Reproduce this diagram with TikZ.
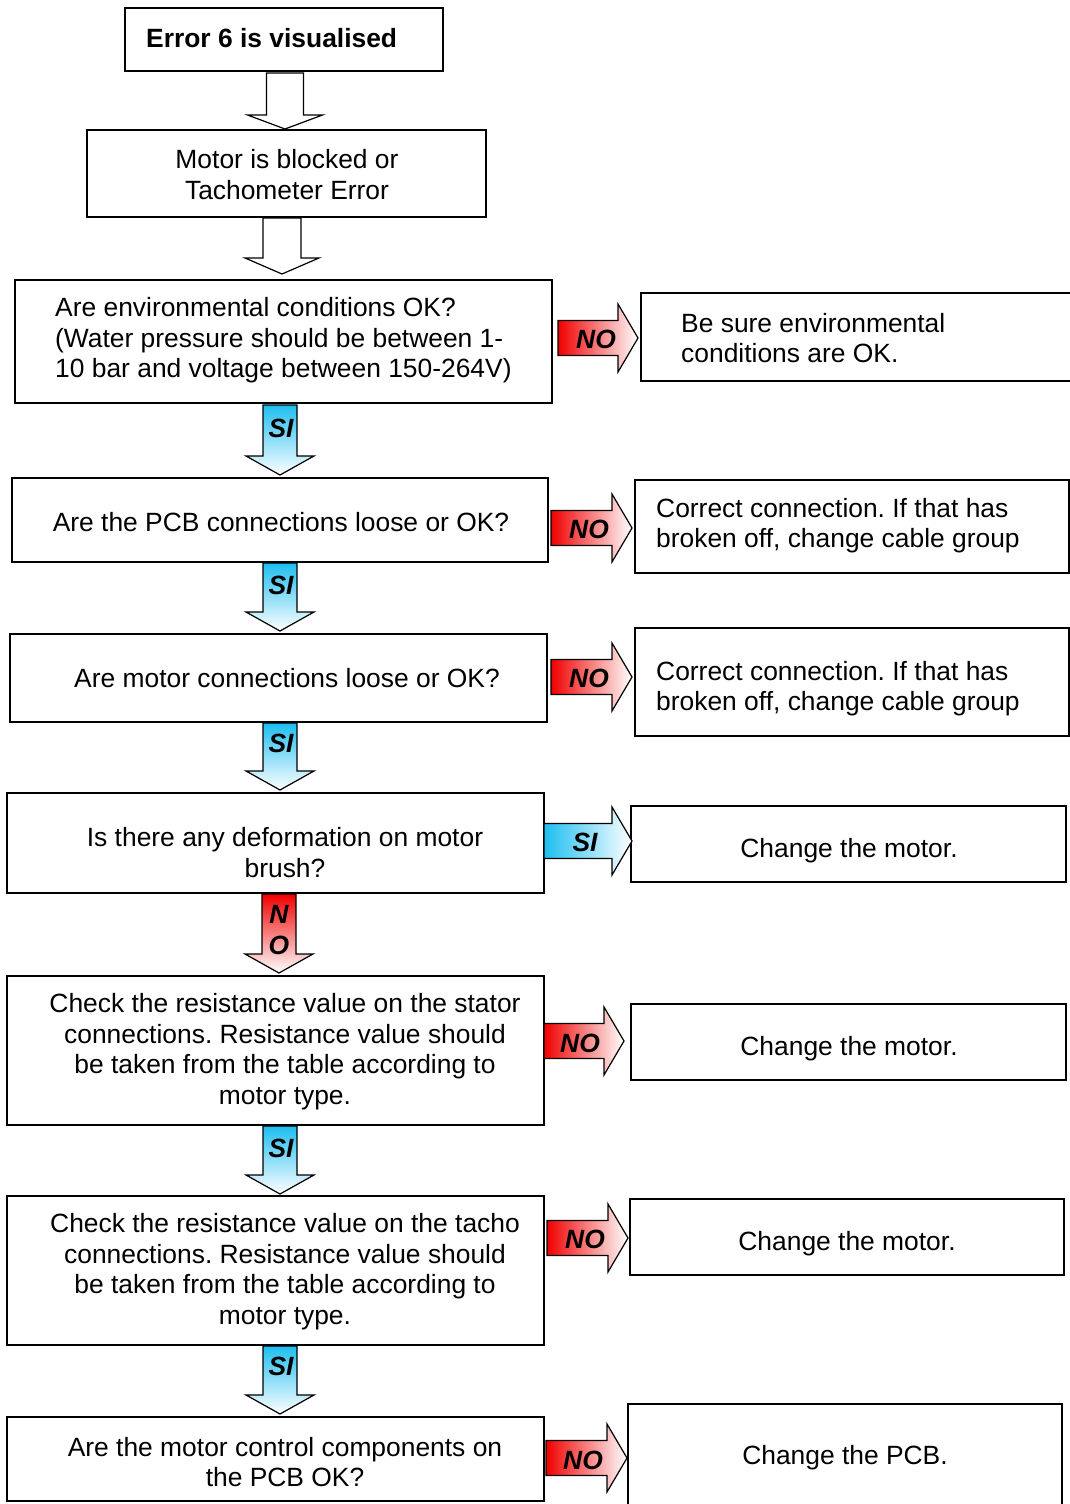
\documentclass[tikz,border=0pt]{standalone}
\usepackage{fontspec}
\setmainfont{Liberation Sans}
\frenchspacing
\definecolor{sicyan}{RGB}{30,190,240}
\definecolor{nored}{RGB}{240,0,0}
% vertical block arrow: x, top, tip, shaft half width, head half width, head length, style
\newcommand\vblock[7]{%
  \path[#7] (#1-#4,#2) -- (#1+#4,#2) -- (#1+#4,#3-#6) -- (#1+#5,#3-#6) -- (#1,#3)
    -- (#1-#5,#3-#6) -- (#1-#4,#3-#6) -- cycle;}
% horizontal block arrow: left, tip, y centre, shaft half height, head half height, head length, style
\newcommand\hblock[7]{%
  \path[#7] (#1,#3-#4) -- (#2-#6,#3-#4) -- (#2-#6,#3-#5) -- (#2,#3)
    -- (#2-#6,#3+#5) -- (#2-#6,#3+#4) -- (#1,#3+#4) -- cycle;}
\begin{document}
\begin{tikzpicture}[x=1pt,y=-1pt,
  box/.style={draw=black, line width=1.6pt, fill=white, rectangle, inner sep=0pt},
  txt/.style={inner sep=0pt, font=\fontsize{26.4}{30.6}\selectfont},
  lbl/.style={inner sep=0pt, font=\fontsize{26.4}{30.6}\selectfont\bfseries\itshape},
  plainarrow/.style={draw=black, line width=1.2pt, fill=white},
  siarrow/.style={draw=black, line width=1.2pt, top color=sicyan, bottom color=white},
  siarrowh/.style={draw=black, line width=1.2pt, left color=sicyan, right color=white},
  noarrow/.style={draw=black, line width=1.2pt, top color=nored, bottom color=white},
  noarrowh/.style={draw=black, line width=1.2pt, left color=nored, right color=white}]
\clip (0,0) rectangle (1070,1504);
\fill[white] (0,0) rectangle (1070,1504);

% left column: questions
\node[box, minimum width=318pt, minimum height=63pt] (b0) at (284,39.5) {};
\node[box, minimum width=399pt, minimum height=87pt] (b1) at (286.5,173.5) {};
\node[box, minimum width=537pt, minimum height=123pt] (b2) at (283.5,341.5) {};
\node[box, minimum width=536pt, minimum height=84pt] (b3) at (280,520) {};
\node[box, minimum width=537pt, minimum height=88pt] (b4) at (278.5,678) {};
\node[box, minimum width=537pt, minimum height=100pt] (b5) at (275.5,843) {};
\node[box, minimum width=537pt, minimum height=149pt] (b6) at (275.5,1050.5) {};
\node[box, minimum width=537pt, minimum height=149pt] (b7) at (275.5,1270.5) {};
\node[box, minimum width=537pt, minimum height=84pt] (b8) at (275.5,1459) {};

% right column: actions
\node[box, minimum width=439pt, minimum height=88pt] (r1) at (860.5,337) {};
\node[box, minimum width=434pt, minimum height=93pt] (r2) at (852,526.5) {};
\node[box, minimum width=434pt, minimum height=108pt] (r3) at (852,682) {};
\node[box, minimum width=435pt, minimum height=76pt] (r4) at (848.5,844) {};
\node[box, minimum width=435pt, minimum height=76pt] (r5) at (848.5,1042) {};
\node[box, minimum width=434pt, minimum height=76pt] (r6) at (847,1237) {};
\node[box, minimum width=434pt, minimum height=116pt] (r7) at (845,1462) {};

% texts
\node[txt, anchor=west, font=\fontsize{26.4}{30.6}\selectfont\bfseries] (t0) at (146,38) {Error 6 is visualised};
\node[txt, align=center] (t1) at (287,174.5) {Motor is blocked or\\Tachometer Error};
\node[txt, anchor=west, align=left] (t2) at (55,340.5) {Are environmental conditions OK?\\(Water pressure should be between 1-\\10 bar and voltage between 150-264V)};
\node[txt] (t3) at (281,522.5) {Are the PCB connections loose or OK?};
\node[txt] (t4) at (287,678.5) {Are motor connections loose or OK?};
\node[txt, align=center] (t5) at (285,852.5) {Is there any deformation on motor\\brush?};
\node[txt, align=center] (t6) at (285,1051.5) {Check the resistance value on the stator\\connections. Resistance value should\\be taken from the table according to\\motor type.};
\node[txt, align=center] (t7) at (285,1271.5) {Check the resistance value on the tacho\\connections. Resistance value should\\be taken from the table according to\\motor type.};
\node[txt, align=center] (t8) at (285,1462) {Are the motor control components on\\the PCB OK?};

\node[txt, anchor=west, align=left] (s1) at (681,338) {Be sure environmental\\conditions are OK.};
\node[txt, anchor=west, align=left] (s2) at (656,525.5) {Correct connection. If that has\\broken off, change cable group};
\node[txt, anchor=west, align=left] (s3) at (656,688.5) {Correct connection. If that has\\broken off, change cable group};
\node[txt] (s4) at (849,851) {Change the motor.};
\node[txt] (s5) at (849,1049) {Change the motor.};
\node[txt] (s6) at (847,1244) {Change the motor.};
\node[txt] (s7) at (845,1458) {Change the PCB.};

% downward block arrows
\vblock{285}{73}{129}{18.5}{37.5}{14}{plainarrow}
\vblock{282}{218}{274}{19}{37}{16}{plainarrow}
\vblock{280}{405}{475}{17}{34}{19}{siarrow}
\vblock{280}{563}{631}{17}{34}{19}{siarrow}
\vblock{280}{723}{790}{17}{34}{19}{siarrow}
\vblock{279}{894}{973}{17}{34}{19}{noarrow}
\vblock{280}{1126}{1194}{17}{34}{19}{siarrow}
\vblock{280}{1346}{1414}{17}{34}{19}{siarrow}

% rightward block arrows
\hblock{558}{638}{338}{17.5}{34}{20}{noarrowh}
\hblock{551}{632}{528}{17.5}{34}{20}{noarrowh}
\hblock{551}{632}{677}{17.5}{34}{20}{noarrowh}
\hblock{544}{632}{841}{17.5}{34}{20}{siarrowh}
\hblock{544}{624}{1041}{17.5}{34}{20}{noarrowh}
\hblock{547}{628}{1238}{17.5}{34}{20}{noarrowh}
\hblock{546}{627}{1458}{17.5}{34}{20}{noarrowh}

% arrow labels
\node[lbl] (v1) at (281,428) {SI};
\node[lbl] (v2) at (281,585) {SI};
\node[lbl] (v3) at (281,743) {SI};
\node[lbl] (v4n) at (279,914) {N};
\node[lbl] (v4o) at (279,945) {O};
\node[lbl] (v5) at (281,1148) {SI};
\node[lbl] (v6) at (281,1366) {SI};

\node[lbl] (h1) at (596,339) {NO};
\node[lbl] (h2) at (589,529) {NO};
\node[lbl] (h3) at (589,678) {NO};
\node[lbl] (h4) at (585,842) {SI};
\node[lbl] (h5) at (580,1043) {NO};
\node[lbl] (h6) at (585,1239) {NO};
\node[lbl] (h7) at (583,1460) {NO};
\end{tikzpicture}
\end{document}
